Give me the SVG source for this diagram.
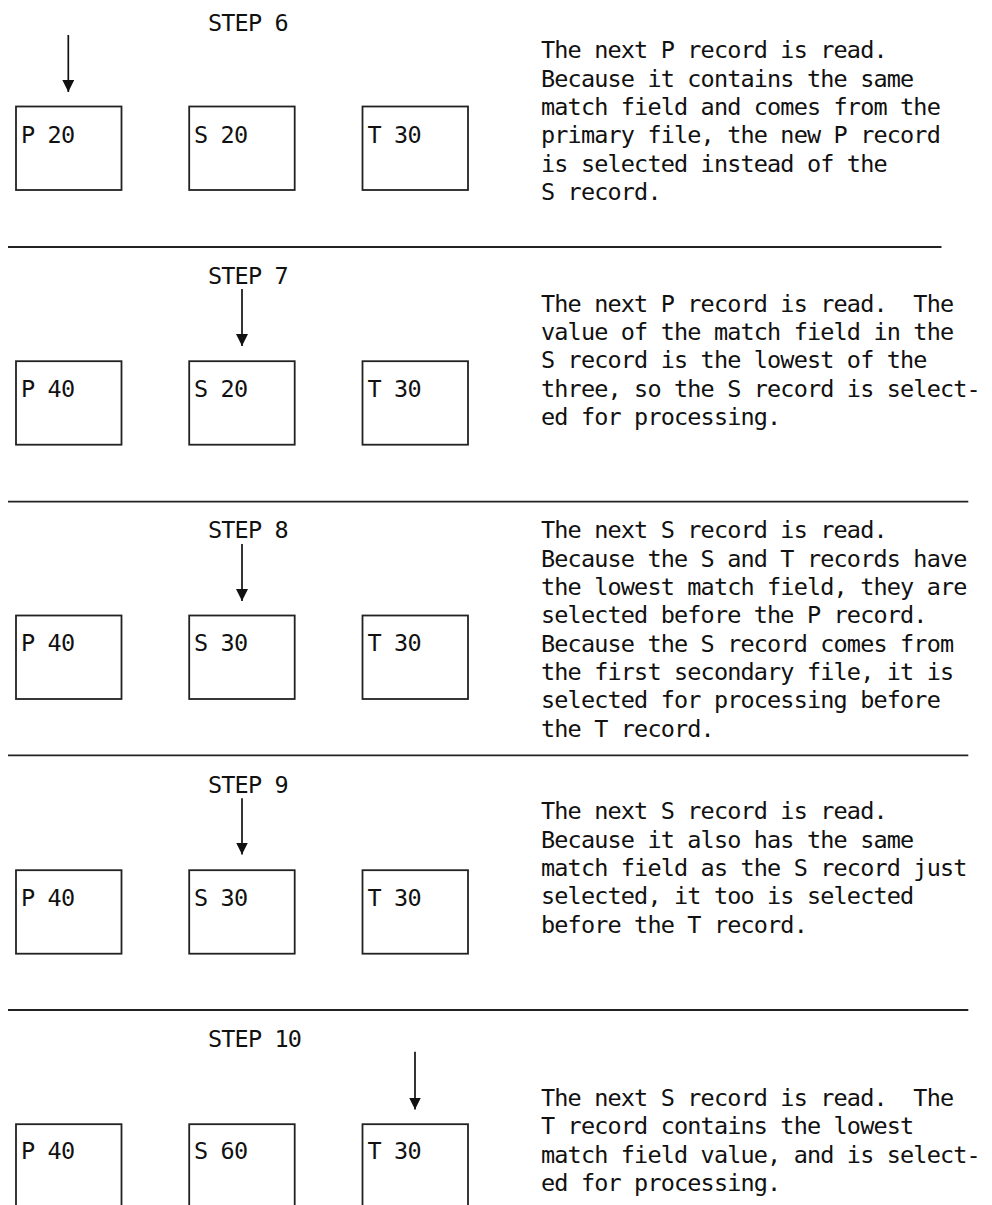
<svg xmlns="http://www.w3.org/2000/svg" width="992" height="1205" viewBox="0 0 992 1205">
  <style>
    text { font-family: "DejaVu Sans Mono", "Liberation Mono", monospace; font-size: 23.5px; letter-spacing: -0.85px; fill: #111; white-space: pre; }
    .box { fill: #fff; stroke: #222; stroke-width: 1.8; }
    .rule { stroke: #222; stroke-width: 1.8; }
    .ptr { stroke: #111; stroke-width: 1.7; fill: none; marker-end: url(#head); }
  </style>
  <defs>
    <marker id="head" markerUnits="userSpaceOnUse" markerWidth="12" markerHeight="12" refX="12" refY="6" orient="auto">
      <path d="M0,0 L12,6 L0,12 Z" fill="#111"/>
    </marker>
  </defs>
  <rect width="992" height="1205" fill="#fff"/>

  <!-- section dividers -->
  <g id="dividers">
    <line class="rule" x1="8" y1="247" x2="941.5" y2="247"/>
    <line class="rule" x1="8" y1="501.7" x2="968.3" y2="501.7"/>
    <line class="rule" x1="8" y1="755.3" x2="968.3" y2="755.3"/>
    <line class="rule" x1="8" y1="1010" x2="968.3" y2="1010"/>
  </g>

  <!-- step headings -->
  <g id="headings">
    <text x="208" y="30.7">STEP 6</text>
    <text x="208" y="284">STEP 7</text>
    <text x="208" y="538.3">STEP 8</text>
    <text x="208" y="792.7">STEP 9</text>
    <text x="208" y="1047.3">STEP 10</text>
  </g>

  <!-- step 6 records -->
  <g id="s6-p"><rect class="box" x="16" y="106.5" width="105.5" height="83.5"/><text x="21" y="143.3">P 20</text></g>
  <g id="s6-s"><rect class="box" x="189.2" y="106.5" width="105.5" height="83.5"/><text x="194" y="143.3">S 20</text></g>
  <g id="s6-t"><rect class="box" x="362.5" y="106.5" width="105.5" height="83.5"/><text x="367.5" y="143.3">T 30</text></g>

  <!-- step 7 records -->
  <g id="s7-p"><rect class="box" x="16" y="361.2" width="105.5" height="83.5"/><text x="21" y="396.7">P 40</text></g>
  <g id="s7-s"><rect class="box" x="189.2" y="361.2" width="105.5" height="83.5"/><text x="194" y="396.7">S 20</text></g>
  <g id="s7-t"><rect class="box" x="362.5" y="361.2" width="105.5" height="83.5"/><text x="367.5" y="396.7">T 30</text></g>

  <!-- step 8 records -->
  <g id="s8-p"><rect class="box" x="16" y="615.5" width="105.5" height="83.5"/><text x="21" y="650.7">P 40</text></g>
  <g id="s8-s"><rect class="box" x="189.2" y="615.5" width="105.5" height="83.5"/><text x="194" y="650.7">S 30</text></g>
  <g id="s8-t"><rect class="box" x="362.5" y="615.5" width="105.5" height="83.5"/><text x="367.5" y="650.7">T 30</text></g>

  <!-- step 9 records -->
  <g id="s9-p"><rect class="box" x="16" y="870.2" width="105.5" height="83.5"/><text x="21" y="905.7">P 40</text></g>
  <g id="s9-s"><rect class="box" x="189.2" y="870.2" width="105.5" height="83.5"/><text x="194" y="905.7">S 30</text></g>
  <g id="s9-t"><rect class="box" x="362.5" y="870.2" width="105.5" height="83.5"/><text x="367.5" y="905.7">T 30</text></g>

  <!-- step 10 records -->
  <g id="s10-p"><rect class="box" x="16" y="1124.2" width="105.5" height="83.5"/><text x="21" y="1159.3">P 40</text></g>
  <g id="s10-s"><rect class="box" x="189.2" y="1124.2" width="105.5" height="83.5"/><text x="194" y="1159.3">S 60</text></g>
  <g id="s10-t"><rect class="box" x="362.5" y="1124.2" width="105.5" height="83.5"/><text x="367.5" y="1159.3">T 30</text></g>

  <!-- selection pointers -->
  <g id="connectors">
    <line class="ptr" x1="68.3" y1="35" x2="68.3" y2="92"/>
    <line class="ptr" x1="242" y1="289" x2="242" y2="346"/>
    <line class="ptr" x1="242" y1="544" x2="242" y2="601"/>
    <line class="ptr" x1="242" y1="798.3" x2="242" y2="854.5"/>
    <line class="ptr" x1="415" y1="1051.7" x2="415" y2="1109.5"/>
  </g>

  <!-- explanations -->
  <g id="notes">
    <text x="541" y="58.3">The next P record is read.<tspan x="541" dy="28.33">Because it contains the same</tspan><tspan x="541" dy="28.33">match field and comes from the</tspan><tspan x="541" dy="28.33">primary file, the new P record</tspan><tspan x="541" dy="28.33">is selected instead of the</tspan><tspan x="541" dy="28.33">S record.</tspan></text>
    <text x="541" y="311.7">The next P record is read.  The<tspan x="541" dy="28.33">value of the match field in the</tspan><tspan x="541" dy="28.33">S record is the lowest of the</tspan><tspan x="541" dy="28.33">three, so the S record is select-</tspan><tspan x="541" dy="28.33">ed for processing.</tspan></text>
    <text x="541" y="538.3">The next S record is read.<tspan x="541" dy="28.33">Because the S and T records have</tspan><tspan x="541" dy="28.33">the lowest match field, they are</tspan><tspan x="541" dy="28.33">selected before the P record.</tspan><tspan x="541" dy="28.33">Because the S record comes from</tspan><tspan x="541" dy="28.33">the first secondary file, it is</tspan><tspan x="541" dy="28.33">selected for processing before</tspan><tspan x="541" dy="28.33">the T record.</tspan></text>
    <text x="541" y="819.3">The next S record is read.<tspan x="541" dy="28.33">Because it also has the same</tspan><tspan x="541" dy="28.33">match field as the S record just</tspan><tspan x="541" dy="28.33">selected, it too is selected</tspan><tspan x="541" dy="28.33">before the T record.</tspan></text>
    <text x="541" y="1106">The next S record is read.  The<tspan x="541" dy="28.33">T record contains the lowest</tspan><tspan x="541" dy="28.33">match field value, and is select-</tspan><tspan x="541" dy="28.33">ed for processing.</tspan></text>
  </g>
</svg>
